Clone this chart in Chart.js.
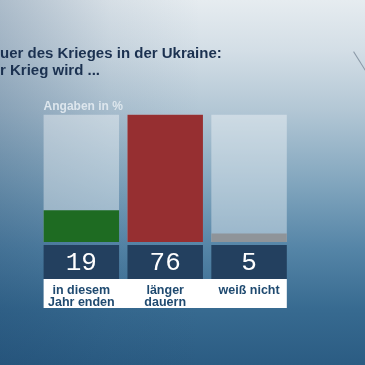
<!DOCTYPE html>
<html>
<head>
<meta charset="utf-8">
<script src="https://cdn.jsdelivr.net/npm/chart.js@4"></script>
<style>
  html, body { margin: 0; padding: 0; }
  body {
    width: 365px; height: 365px; overflow: hidden; position: relative;
    background:
      linear-gradient(to right, rgba(25, 65, 105, 0.28) 0%, rgba(25, 65, 105, 0.08) 30%, rgba(25, 65, 105, 0) 55%),
      linear-gradient(to bottom, #e6ecf0 0%, #d3dee6 14%, #b3c7d5 30%, #82a6be 50%, #5585a7 68%, #376a90 85%, #2b5c83 100%);
  }
  #deco {
    position: absolute; left: 347px; top: 63px; width: 28px; height: 1px;
    background: rgba(120, 135, 150, 0.8); transform: rotate(58deg);
  }
  canvas { position: absolute; left: 0; top: 0; }
</style>
</head>
<body>
<div id="deco"></div>
<canvas id="chart" width="365" height="365"></canvas>
<script>
// Politbarometer - Dauer des Krieges
const categories = [['in diesem', 'Jahr enden'], ['länger', 'dauern'], 'weiß nicht'];
const values = [19, 76, 5];
const barColors = ['#1e6b22', '#962f31', '#8f9499'];
const scaleMax = 76;
const track = categories.map(() => scaleMax);

// number boxes + white label strip under the bars
const panel = {
    id: 'panel',
    beforeDraw(chart) {
        const c = chart.ctx;
        const area = chart.chartArea;
        const meta = chart.getDatasetMeta(0);
        const boxTop = area.bottom + 3;
        const boxBottom = area.bottom + 37;
        const first = meta.data[0], last = meta.data[meta.data.length - 1];

        c.save();
        c.fillStyle = '#ffffff';
        c.fillRect(first.x - first.width / 2, boxBottom, (last.x + last.width / 2) - (first.x - first.width / 2), 29);

        c.font = 'bold 12px "Liberation Sans", Arial, sans-serif';
        c.fillStyle = '#dde6ed';
        c.textBaseline = 'middle';
        c.fillText('Angaben in %', first.x - first.width / 2, area.top - 8);

        meta.data.forEach((bar, i) => {
            c.fillStyle = '#23405f';
            c.fillRect(bar.x - bar.width / 2, boxTop, bar.width, boxBottom - boxTop);
            c.fillStyle = '#ffffff';
            c.font = '26px "Liberation Mono", monospace';
            c.textAlign = 'center';
            c.textBaseline = 'middle';
            c.fillText(String(values[i]), bar.x, (boxTop + boxBottom) / 2 + 1);
        });
        c.restore();
    }
};

new Chart(document.getElementById('chart'), {
    type: 'bar',
    data: {
        labels: categories,
        datasets: [
            {
                data: values,
                backgroundColor: barColors,
                grouped: false,
                barPercentage: 1,
                categoryPercentage: 0.9
            },
            {
                data: track,
                backgroundColor: 'rgba(255, 255, 255, 0.38)',
                grouped: false,
                barPercentage: 1,
                categoryPercentage: 0.9
            }
        ]
    },
    options: {
        responsive: false,
        animation: false,
        layout: { padding: { left: 0, right: 74, top: 0, bottom: 14 } },
        plugins: {
            legend: { display: false },
            tooltip: { enabled: false },
            title: {
                display: true,
                align: 'start',
                text: ['uer des Krieges in der Ukraine:', 'r Krieg wird ...'],
                color: '#1b3150',
                font: { family: '"Liberation Sans", Arial, sans-serif', size: 15, weight: 'bold', lineHeight: 1.15 },
                padding: { top: 45, bottom: 35 }
            }
        },
        scales: {
            x: {
                grid: { display: false, drawTicks: false },
                border: { display: false },
                ticks: {
                    color: '#1f4a70',
                    font: { family: '"Liberation Sans", Arial, sans-serif', size: 12.5, weight: 'bold', lineHeight: 1.0 },
                    padding: 42,
                    maxRotation: 0,
                    autoSkip: false
                }
            },
            y: {
                min: 0,
                max: scaleMax,
                grid: { display: false, drawTicks: false },
                border: { display: false },
                ticks: { display: false },
                afterFit(scale) { scale.width = 36; }
            }
        }
    },
    plugins: [panel]
});
</script>
</body>
</html>
